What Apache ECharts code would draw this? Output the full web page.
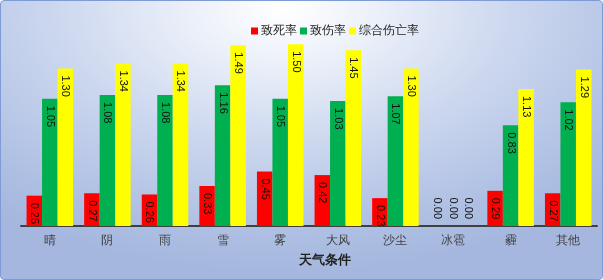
<!DOCTYPE html>
<html><head><meta charset="utf-8">
<script src="https://cdn.jsdelivr.net/npm/echarts@6/dist/echarts.min.js"></script>
<style>
html,body{margin:0;padding:0;}
#c{width:601px;height:278px;border:1px solid #7f9bd6;border-radius:4px;
background:radial-gradient(ellipse 75% 95% at 47% 3%, #ffffff 0%, #eef2fa 18%, #cdd8ef 50%, #aebfe3 85%, #a6b7df 100%);}
</style></head>
<body><div id="c"></div>
<script>
var categories = ['晴','阴','雨','雪','雾','大风','沙尘','冰雹','霾','其他'];
var deathRate = [0.25,0.27,0.26,0.33,0.45,0.42,0.23,0.00,0.29,0.27];
var injuryRate = [1.05,1.08,1.08,1.16,1.05,1.03,1.07,0.00,0.83,1.02];
var totalRate = [1.30,1.34,1.34,1.49,1.50,1.45,1.30,0.00,1.13,1.29];
var seriesNames = ['致死率','致伤率','综合伤亡率'];
var colors = ['#ff0000','#00b050','#ffff00'];

function mk(vals){
  return vals.map(function(v){
    if (v === 0) {
      return {value:v, label:{position:'top', align:'right', distance:7}};
    }
    return v;
  });
}
var chart = echarts.init(document.getElementById('c'));
var lbl = {show:true, position:'insideTop', rotate:-90, align:'left', verticalAlign:'middle',
  distance:7, color:'#111', fontSize:11, fontFamily:'Liberation Sans',
  formatter:function(p){return p.value.toFixed(2);}};
chart.setOption({
  animation:false,
  legend:{top:19, left:245, itemWidth:7, itemHeight:7, itemGap:3, icon:'rect',
    textStyle:{fontSize:12, color:'#222', padding:[0,0,0,-2]}, data:seriesNames},
  grid:{left:20, right:5, top:31, bottom:53},
  xAxis:{type:'category', data:categories,
    axisLine:{lineStyle:{color:'#404040', width:2}}, axisTick:{show:false},
    axisLabel:{color:'#404040', fontSize:12, margin:9},
    name:'天气条件', nameLocation:'middle', nameGap:28,
    nameTextStyle:{fontWeight:'bold', fontSize:13, color:'#222', padding:[0,0,0,32]}},
  yAxis:{type:'value', min:0, max:1.6, show:false, splitLine:{show:false}},
  series:[
    {name:seriesNames[0], type:'bar', data:mk(deathRate), barWidth:15.5, barGap:'0%', itemStyle:{color:colors[0]}, label:lbl},
    {name:seriesNames[1], type:'bar', data:mk(injuryRate), barWidth:15.5, barGap:'0%', itemStyle:{color:colors[1]}, label:lbl},
    {name:seriesNames[2], type:'bar', data:mk(totalRate), barWidth:15.5, barGap:'0%', itemStyle:{color:colors[2]}, label:lbl}
  ]
});
</script></body></html>
